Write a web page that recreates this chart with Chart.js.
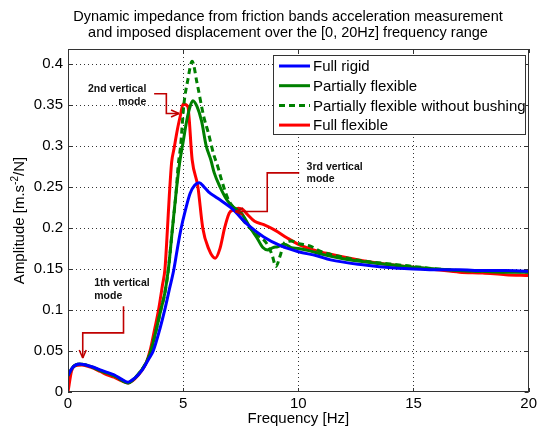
<!DOCTYPE html>
<html><head><meta charset="utf-8">
<script src="https://cdn.jsdelivr.net/npm/chart.js@4.4.0/dist/chart.umd.min.js"></script>
<style>html,body{margin:0;padding:0;background:#fff}#wrap{width:540px;height:428px}</style>
</head><body><div id="wrap"><canvas id="c" width="540" height="428"></canvas></div>
<script>
const titleLines = ['Dynamic impedance from friction bands acceleration measurement','and imposed displacement over the [0, 20Hz] frequency range'];
const xTitle = 'Frequency [Hz]';
const yTitleParts = ['Amplitude [m.s', '-2', '/N]'];
const xTicks = [0, 5, 10, 15, 20];
const yTicks = [0, 0.05, 0.1, 0.15, 0.2, 0.25, 0.3, 0.35, 0.4];
const seriesNames = ['Full rigid', 'Partially flexible', 'Partially flexible without bushing', 'Full flexible'];

const rigidFreq = [0, 0.2, 0.5, 1.0, 1.4, 1.7, 2.0, 2.3, 2.6, 2.9, 3.2, 3.5, 3.7, 4.0, 4.2, 4.4, 4.6, 4.75, 4.9, 5.1, 5.3, 5.5, 5.7, 5.9, 6.1, 6.5, 7.1, 7.8, 8.5, 9.25, 10, 10.8, 11.4, 12.8, 14.2, 15, 16, 17, 18, 19, 20];
const rigidAmp = [0.02, 0.03, 0.034, 0.031, 0.027, 0.024, 0.021, 0.016, 0.012, 0.017, 0.026, 0.04, 0.05, 0.078, 0.1, 0.125, 0.15, 0.175, 0.198, 0.222, 0.242, 0.252, 0.255, 0.25, 0.244, 0.236, 0.224, 0.204, 0.189, 0.178, 0.171, 0.166, 0.161, 0.155, 0.151, 0.15, 0.149, 0.149, 0.148, 0.148, 0.147];

const partFreq = [0, 0.2, 0.5, 1.0, 1.4, 1.7, 2.0, 2.3, 2.6, 2.9, 3.2, 3.4, 3.6, 3.8, 4.03, 4.2, 4.36, 4.53, 4.7, 4.85, 5.0, 5.15, 5.3, 5.42, 5.6, 5.8, 6.0, 6.2, 6.35, 6.6, 6.9, 7.2, 7.53, 7.96, 8.2, 8.46, 8.68, 8.9, 9.1, 9.4, 9.7, 10, 10.5, 11, 12, 13, 14, 15, 16, 17, 18, 19, 20];
const partAmp = [0.02, 0.03, 0.034, 0.031, 0.026, 0.023, 0.02, 0.015, 0.011, 0.017, 0.027, 0.036, 0.05, 0.072, 0.1, 0.12, 0.15, 0.198, 0.245, 0.28, 0.305, 0.33, 0.348, 0.355, 0.348, 0.33, 0.3, 0.283, 0.267, 0.25, 0.234, 0.225, 0.218, 0.198, 0.188, 0.176, 0.173, 0.176, 0.177, 0.18, 0.176, 0.175, 0.172, 0.168, 0.162, 0.158, 0.155, 0.152, 0.15, 0.148, 0.147, 0.146, 0.146];

const noBushFreq = [0, 0.2, 0.5, 1.0, 1.4, 1.7, 2.0, 2.3, 2.6, 2.9, 3.2, 3.4, 3.6, 3.8, 4.03, 4.2, 4.36, 4.53, 4.7, 4.78, 4.89, 5.03, 5.2, 5.39, 5.6, 5.89, 6.1, 6.32, 6.5, 6.66, 6.96, 7.25, 7.82, 8.2, 8.6, 8.85, 9.03, 9.2, 9.4, 9.7, 10, 10.5, 11, 12, 13, 14, 15, 16, 17, 18, 19, 20];
const noBushAmp = [0.02, 0.03, 0.034, 0.031, 0.026, 0.023, 0.02, 0.015, 0.011, 0.017, 0.027, 0.036, 0.05, 0.072, 0.1, 0.12, 0.15, 0.198, 0.245, 0.275, 0.3, 0.35, 0.38, 0.403, 0.377, 0.336, 0.315, 0.29, 0.275, 0.259, 0.2345, 0.2223, 0.202, 0.192, 0.182, 0.168, 0.153, 0.165, 0.182, 0.184, 0.181, 0.178, 0.171, 0.164, 0.159, 0.156, 0.153, 0.15, 0.148, 0.147, 0.147, 0.146, 0.146];

const flexFreq = [0, 0.15, 0.3, 0.6, 1.0, 1.4, 1.7, 2.0, 2.3, 2.6, 2.9, 3.2, 3.4, 3.56, 3.75, 3.93, 4.1, 4.21, 4.31, 4.4, 4.5, 4.6, 4.75, 4.88, 5.0, 5.2, 5.39, 5.64, 5.85, 6.1, 6.39, 6.6, 6.8, 7.0, 7.2, 7.4, 7.6, 7.8, 8.1, 8.5, 9.0, 9.5, 10, 10.8, 11.4, 12.8, 14, 15, 16, 17, 18, 19, 20];
const flexAmp = [0, 0.025, 0.032, 0.033, 0.03, 0.025, 0.021, 0.018, 0.014, 0.011, 0.016, 0.026, 0.036, 0.05, 0.075, 0.1, 0.13, 0.15, 0.195, 0.24, 0.28, 0.296, 0.32, 0.337, 0.351, 0.348, 0.283, 0.25, 0.2, 0.175, 0.163, 0.175, 0.2, 0.218, 0.222, 0.224, 0.222, 0.216, 0.208, 0.204, 0.197, 0.188, 0.18, 0.172, 0.168, 0.16, 0.155, 0.152, 0.149, 0.146, 0.145, 0.143, 0.142];

// annotations: text lines, anchor (data coords), leader path (data coords)
const annotations = [
  {lines: ['2nd vertical', 'mode'], align: 'right', textAt: [3.40, 0.3695], lineGap: 0.0158,
   path: [[3.74, 0.3634], [4.27, 0.3634], [4.27, 0.3394], [4.82, 0.3394]]},
  {lines: ['3rd vertical', 'mode'], align: 'left', textAt: [10.36, 0.2744], lineGap: 0.0155,
   path: [[10.04, 0.267], [8.65, 0.267], [8.65, 0.2199], [7.26, 0.2199]]},
  {lines: ['1th vertical', 'mode'], align: 'left', textAt: [1.14, 0.1329], lineGap: 0.0155,
   path: [[2.41, 0.1044], [2.41, 0.072], [0.64, 0.072], [0.64, 0.0415]]}
];

const toXY = (fs, as) => fs.map((f, i) => ({x: f, y: as[i]}));
const FONT = '"Liberation Sans", Arial, sans-serif';

const frame = {
  id: 'frame',
  beforeDatasetsDraw(chart) {
    const {ctx, chartArea: a, scales: {x, y}} = chart;
    ctx.save();
    ctx.strokeStyle = '#333'; ctx.lineWidth = 1; ctx.setLineDash([1, 3]);
    xTicks.forEach(v => {
      const px = Math.round(x.getPixelForValue(v)) + 0.5;
      if (px <= a.left + 1 || px >= a.right - 1) return;
      ctx.beginPath(); ctx.moveTo(px, a.top); ctx.lineTo(px, a.bottom); ctx.stroke();
    });
    yTicks.forEach(v => {
      const py = Math.round(y.getPixelForValue(v)) + 0.5;
      if (py <= a.top + 1 || py >= a.bottom - 1) return;
      ctx.beginPath(); ctx.moveTo(a.left, py); ctx.lineTo(a.right, py); ctx.stroke();
    });
    ctx.setLineDash([]);
    ctx.strokeStyle = '#333';
    xTicks.forEach(v => {
      const px = Math.round(x.getPixelForValue(v)) + 0.5;
      ctx.beginPath(); ctx.moveTo(px, a.bottom); ctx.lineTo(px, a.bottom - 4);
      ctx.moveTo(px, a.top); ctx.lineTo(px, a.top + 4); ctx.stroke();
    });
    yTicks.forEach(v => {
      const py = Math.round(y.getPixelForValue(v)) + 0.5;
      ctx.beginPath(); ctx.moveTo(a.left, py); ctx.lineTo(a.left + 4, py);
      ctx.moveTo(a.right, py); ctx.lineTo(a.right - 4, py); ctx.stroke();
    });
    ctx.restore();
  },
  afterDatasetsDraw(chart) {
    const {ctx, chartArea: a, scales: {x, y}} = chart;
    ctx.save();
    // box
    ctx.strokeStyle = '#333'; ctx.lineWidth = 1;
    ctx.strokeRect(Math.round(a.left) + 0.5, Math.round(a.top) + 0.5, Math.round(a.right - a.left) - 1, Math.round(a.bottom - a.top) - 1);
    // annotations
    annotations.forEach(an => {
      ctx.strokeStyle = '#c00000'; ctx.fillStyle = '#c00000'; ctx.lineWidth = 1.6;
      ctx.beginPath();
      an.path.forEach((p, i) => {
        const px = x.getPixelForValue(p[0]), py = y.getPixelForValue(p[1]);
        if (i === 0) ctx.moveTo(px, py); else ctx.lineTo(px, py);
      });
      ctx.stroke();
      const n = an.path.length;
      const ex = x.getPixelForValue(an.path[n-1][0]), ey = y.getPixelForValue(an.path[n-1][1]);
      const sx = x.getPixelForValue(an.path[n-2][0]), sy = y.getPixelForValue(an.path[n-2][1]);
      const ang = Math.atan2(ey - sy, ex - sx);
      ctx.beginPath();
      ctx.moveTo(ex, ey);
      ctx.lineTo(ex - 8*Math.cos(ang) + 3.5*Math.sin(ang), ey - 8*Math.sin(ang) - 3.5*Math.cos(ang));
      ctx.moveTo(ex, ey);
      ctx.lineTo(ex - 8*Math.cos(ang) - 3.5*Math.sin(ang), ey - 8*Math.sin(ang) + 3.5*Math.cos(ang));
      ctx.stroke();
      ctx.fillStyle = '#111';
      ctx.font = 'bold 10.5px ' + FONT;
      ctx.textAlign = an.align; ctx.textBaseline = 'middle';
      an.lines.forEach((t, i) => {
        ctx.fillText(t, x.getPixelForValue(an.textAt[0]), y.getPixelForValue(an.textAt[1] - i*an.lineGap));
      });
    });
    // legend
    const lx = Math.round(a.right - 256), ly = Math.round(a.top + 6), lw = 252, lh = 79;
    ctx.fillStyle = '#fff'; ctx.fillRect(lx, ly, lw, lh);
    ctx.strokeStyle = '#333'; ctx.lineWidth = 1; ctx.strokeRect(lx + 0.5, ly + 0.5, lw, lh);
    ctx.font = '15px ' + FONT; ctx.textAlign = 'left'; ctx.textBaseline = 'middle';
    chart.data.datasets.forEach((ds, i) => {
      const ry = ly + 11 + i * 19.7;
      ctx.save();
      ctx.strokeStyle = ds.borderColor; ctx.lineWidth = ds.borderWidth;
      ctx.setLineDash(ds.borderDash || []);
      ctx.beginPath(); ctx.moveTo(lx + 6, ry); ctx.lineTo(lx + 37, ry); ctx.stroke();
      ctx.restore();
      ctx.fillStyle = '#000';
      ctx.fillText(ds.label, lx + 40, ry + 1);
    });
    ctx.restore();
  },
  afterDraw(chart) {
    const {ctx, chartArea: a} = chart;
    ctx.save();
    ctx.fillStyle = '#000';
    ctx.font = '14.5px ' + FONT; ctx.textAlign = 'center'; ctx.textBaseline = 'middle';
    ctx.fillText(titleLines[0], 288, 17);
    ctx.fillText(titleLines[1], 288, 33);
    ctx.font = '15px ' + FONT;
    ctx.fillText(xTitle, (a.left + a.right) / 2, 419);
    // y title, rotated with superscript
    ctx.translate(20, (a.top + a.bottom) / 2);
    ctx.rotate(-Math.PI / 2);
    ctx.textAlign = 'left';
    const f1 = '15px ' + FONT, f2 = '10px ' + FONT;
    ctx.font = f1; const w1 = ctx.measureText(yTitleParts[0]).width, w3 = ctx.measureText(yTitleParts[2]).width;
    ctx.font = f2; const w2 = ctx.measureText(yTitleParts[1]).width;
    let px = -(w1 + w2 + w3) / 2;
    ctx.font = f1; ctx.fillText(yTitleParts[0], px, 0); px += w1;
    ctx.font = f2; ctx.fillText(yTitleParts[1], px, -5); px += w2;
    ctx.font = f1; ctx.fillText(yTitleParts[2], px, 0);
    ctx.restore();
  }
};

const mk = (label, fs, as, color, dash) => ({
  label, data: toXY(fs, as), borderColor: color, borderWidth: 3, borderDash: dash,
  pointRadius: 0, fill: false, tension: 0.25, cubicInterpolationMode: 'monotone'
});

new Chart(document.getElementById('c'), {
  type: 'line',
  data: {datasets: [
    mk(seriesNames[0], rigidFreq, rigidAmp, '#0000ff', []),
    mk(seriesNames[1], partFreq, partAmp, '#008000', []),
    mk(seriesNames[2], noBushFreq, noBushAmp, '#008000', [6, 4]),
    mk(seriesNames[3], flexFreq, flexAmp, '#ff0000', [])
  ]},
  options: {
    responsive: false, animation: false, devicePixelRatio: 1,
    layout: {padding: {top: 49, right: 7, left: 0, bottom: 0}},
    plugins: {legend: {display: false}, title: {display: false}, tooltip: {enabled: false}},
    scales: {
      x: {type: 'linear', min: 0, max: 20,
        afterBuildTicks: s => { s.ticks = xTicks.map(v => ({value: v})); },
        afterFit: s => { s.height = 36; },
        ticks: {color: '#000', font: {size: 15, family: FONT}, padding: 3, maxRotation: 0,
          callback: v => String(v)},
        grid: {display: false, drawTicks: false},
        border: {display: false}
      },
      y: {type: 'linear', min: 0, max: 0.418,
        afterBuildTicks: s => { s.ticks = yTicks.map(v => ({value: v})); },
        afterFit: s => { s.width = 68; },
        ticks: {color: '#000', font: {size: 15, family: FONT}, padding: 5,
          callback: v => String(+v.toFixed(2))},
        grid: {display: false, drawTicks: false},
        border: {display: false}
      }
    }
  },
  plugins: [frame]
});
</script></body></html>
